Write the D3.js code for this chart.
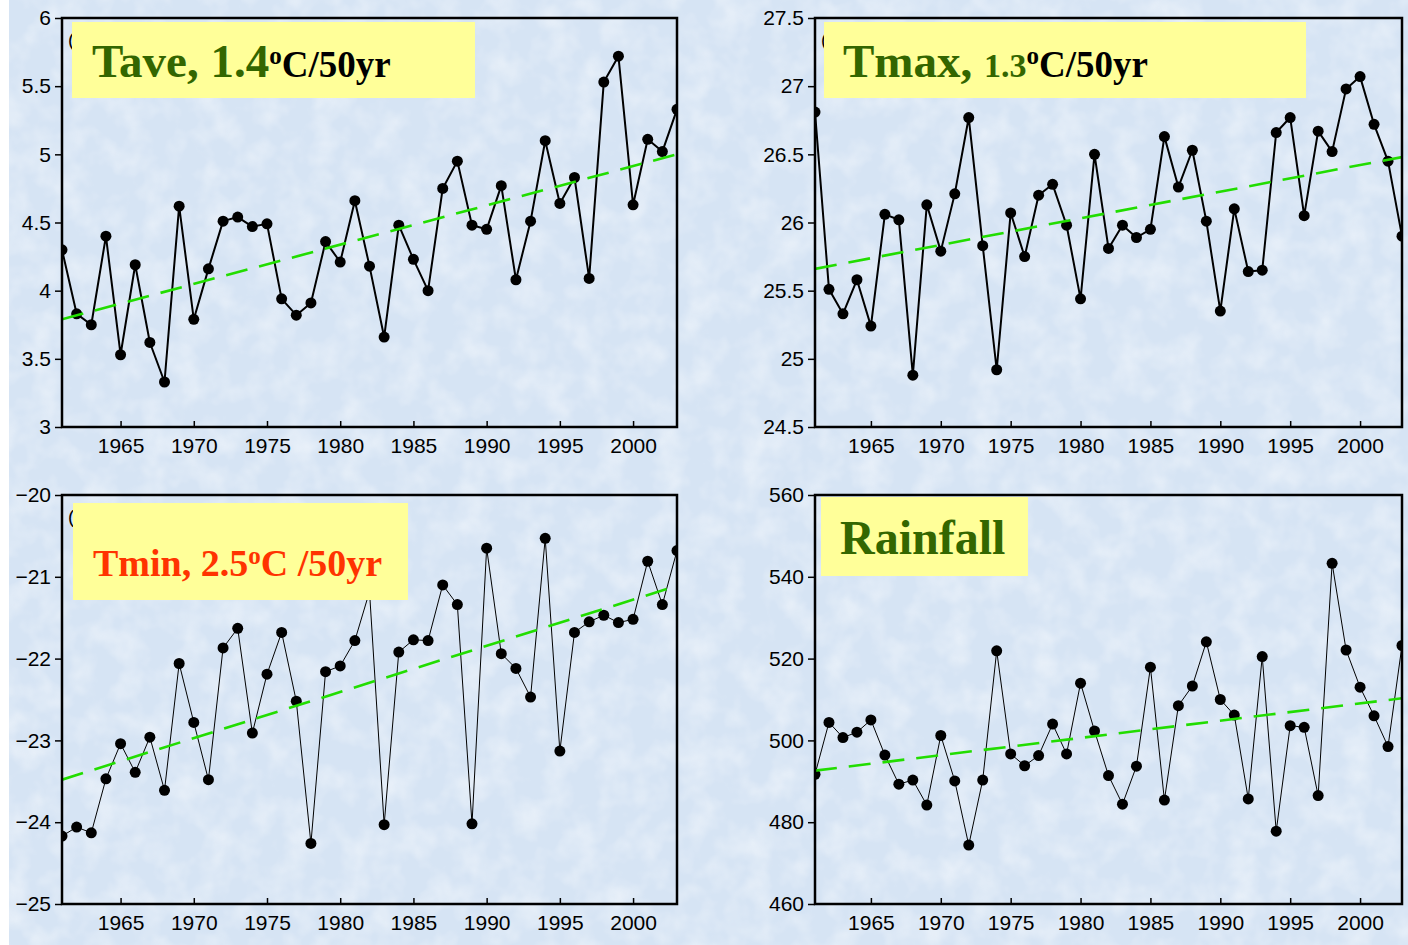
<!DOCTYPE html>
<html>
<head>
<meta charset="utf-8">
<script src="https://cdn.jsdelivr.net/npm/d3@7"></script>
<style>
  body { margin: 0; background: #fff; }
  svg { display: block; }
  .tick text { font-family: 'Liberation Sans', Arial, sans-serif; font-size: 21px; fill: #000; }
  .tick line { stroke: #000; stroke-width: 1.5px; }
  .domain { display: none; }
</style>
</head>
<body>
<svg width="1408" height="945"></svg>
<script>
// years on the x axis
var years = d3.range(1961, 2004);
var yearTicks = [1965, 1970, 1975, 1980, 1985, 1990, 1995, 2000];

// series
var tave = [4.30, 3.83, 3.75, 4.40, 3.53, 4.19, 3.62, 3.33, 4.62, 3.79,
            4.16, 4.51, 4.54, 4.47, 4.49, 3.94, 3.82, 3.91, 4.36, 4.21,
            4.66, 4.18, 3.66, 4.48, 4.23, 4.00, 4.75, 4.95, 4.48, 4.45,
            4.77, 4.08, 4.51, 5.10, 4.64, 4.83, 4.09, 5.53, 5.72, 4.63,
            5.11, 5.02, 5.33];
var tmax = [26.81, 25.51, 25.33, 25.58, 25.24, 26.06, 26.02, 24.88, 26.13, 25.79,
            26.21, 26.77, 25.83, 24.92, 26.07, 25.75, 26.20, 26.28, 25.98, 25.44,
            26.50, 25.81, 25.98, 25.89, 25.95, 26.63, 26.26, 26.53, 26.01, 25.35,
            26.10, 25.64, 25.65, 26.66, 26.77, 26.05, 26.67, 26.52, 26.98, 27.07,
            26.72, 26.45, 25.90];
var tmin = [-24.17, -24.06, -24.13, -23.47, -23.04, -23.39, -22.96, -23.61, -22.06, -22.78,
            -23.48, -21.87, -21.63, -22.91, -22.19, -21.68, -22.52, -24.26, -22.16, -22.09,
            -21.78, -21.18, -24.03, -21.92, -21.77, -21.78, -21.10, -21.34, -24.02, -20.65,
            -21.94, -22.12, -22.47, -20.53, -23.13, -21.68, -21.55, -21.47, -21.56, -21.52,
            -20.81, -21.34, -20.68];
var rain = [491.7, 504.4, 500.7, 502.0, 505.0, 496.4, 489.3, 490.3, 484.2, 501.2,
            490.1, 474.4, 490.3, 521.9, 496.7, 493.8, 496.3, 504.0, 496.7, 514.0,
            502.3, 491.4, 484.4, 493.7, 517.9, 485.4, 508.5, 513.3, 524.1, 510.0,
            506.2, 485.7, 520.5, 477.8, 503.6, 503.2, 486.5, 543.3, 522.1, 513.0,
            506.0, 498.5, 523.2];

// linear trend end values (1961, 2003)
var taveTrend = [3.79, 5.00];
var tmaxTrend = [25.66, 26.48];
var tminTrend = [-23.48, -21.11];
var rainTrend = [492.6, 510.3];

// y axis ranges and ticks
var taveDomain = [3, 6],       taveTicks = [3, 3.5, 4, 4.5, 5, 5.5, 6];
var tmaxDomain = [24.5, 27.5], tmaxTicks = [24.5, 25, 25.5, 26, 26.5, 27, 27.5];
var tminDomain = [-25, -20],   tminTicks = [-25, -24, -23, -22, -21, -20];
var rainDomain = [460, 560],   rainTicks = [460, 480, 500, 520, 540, 560];

var svg = d3.select('svg');

// textured light blue background
var defs = svg.append('defs');
var filt = defs.append('filter').attr('id', 'tex')
    .attr('x', 0).attr('y', 0).attr('width', '100%').attr('height', '100%');
filt.append('feTurbulence').attr('type', 'fractalNoise')
    .attr('baseFrequency', 0.035).attr('numOctaves', 3).attr('seed', 4);
filt.append('feColorMatrix').attr('type', 'matrix')
    .attr('values', '0 0 0 0 1  0 0 0 0 1  0 0 0 0 1  0 0 0 1.4 -0.55');

svg.append('rect').attr('x', 9).attr('y', 0).attr('width', 1399).attr('height', 945)
    .attr('fill', '#d6e4f4');
svg.append('rect').attr('x', 9).attr('y', 0).attr('width', 1399).attr('height', 945)
    .attr('filter', 'url(#tex)').attr('opacity', 0.6);

var panels = [
  {id: 'a', values: tave, trend: taveTrend, domain: taveDomain, ticks: taveTicks,
   l: 62, r: 677, t: 18, b: 427, lw: 2},
  {id: 'b', values: tmax, trend: tmaxTrend, domain: tmaxDomain, ticks: tmaxTicks,
   l: 815, r: 1402, t: 18, b: 427, lw: 2},
  {id: 'c', values: tmin, trend: tminTrend, domain: tminDomain, ticks: tminTicks,
   l: 62, r: 677, t: 495, b: 904, lw: 1},
  {id: null, values: rain, trend: rainTrend, domain: rainDomain, ticks: rainTicks,
   l: 815, r: 1402, t: 495, b: 904, lw: 1}
];

panels.forEach(function(p, i) {
  var w = p.r - p.l, h = p.b - p.t;
  var g = svg.append('g').attr('transform', 'translate(' + [p.l, p.t] + ')');

  var x = d3.scaleLinear().domain([1961, 2003]).range([0, w]);
  var y = d3.scaleLinear().domain(p.domain).range([h, 0]);

  defs.append('clipPath').attr('id', 'clip' + i)
    .append('rect').attr('width', w).attr('height', h);

  // panel letter, mostly hidden behind the label box
  if (p.id) {
    g.append('text')
      .attr('x', 6).attr('y', 28)
      .style('font-family', 'Liberation Sans, Arial, sans-serif')
      .style('font-size', '19px')
      .text('(' + p.id + ')');
  }

  // axes
  g.append('g')
    .attr('transform', 'translate(0,' + h + ')')
    .call(d3.axisBottom(x).tickValues(yearTicks).tickFormat(d3.format('d'))
      .tickSizeInner(-6).tickSizeOuter(0).tickPadding(11));
  g.append('g')
    .call(d3.axisLeft(y).tickValues(p.ticks).tickFormat(d3.format(''))
      .tickSizeInner(7).tickSizeOuter(0).tickPadding(4));

  var plot = g.append('g').attr('clip-path', 'url(#clip' + i + ')');

  var line = d3.line()
    .x(function(d, j) { return x(years[j]); })
    .y(function(d) { return y(d); });

  plot.append('path')
    .datum(p.values)
    .attr('d', line)
    .attr('fill', 'none')
    .attr('stroke', '#000')
    .attr('stroke-width', p.lw)
    .attr('stroke-linejoin', 'round');

  plot.selectAll('circle')
    .data(p.values)
    .enter().append('circle')
    .attr('cx', function(d, j) { return x(years[j]); })
    .attr('cy', function(d) { return y(d); })
    .attr('r', 5.5)
    .attr('fill', '#000');

  plot.append('line')
    .attr('x1', x(1961)).attr('y1', y(p.trend[0]))
    .attr('x2', x(2003)).attr('y2', y(p.trend[1]))
    .attr('stroke', '#22dd00')
    .attr('stroke-width', 2.6)
    .attr('stroke-dasharray', '22,12');

  p.g = g; p.w = w; p.h = h;
});

// label boxes
var serif = "'Liberation Serif', 'Times New Roman', serif";
var green = '#336600';

function box(p, bx, by, bw, bh) {
  p.g.append('rect')
    .attr('x', bx - p.l).attr('y', by - p.t)
    .attr('width', bw).attr('height', bh)
    .attr('fill', '#ffff99');
  return p.g.append('text')
    .style('font-family', serif)
    .style('font-weight', 'bold');
}

var t1 = box(panels[0], 72, 22, 403, 76).attr('x', 92 - 62).attr('y', 77 - 18);
t1.append('tspan').attr('fill', green).style('font-size', '47px').text('Tave, 1.4');
t1.append('tspan').attr('fill', '#000').style('font-size', '25px').attr('dy', -13).text('o');
t1.append('tspan').attr('fill', '#000').style('font-size', '37px').attr('dy', 13).text('C/50yr');

var t2 = box(panels[1], 824, 22, 482, 76).attr('x', 843 - 815).attr('y', 77 - 18);
t2.append('tspan').attr('fill', green).style('font-size', '47px').text('Tmax, ');
t2.append('tspan').attr('fill', green).style('font-size', '34px').text('1.3');
t2.append('tspan').attr('fill', '#000').style('font-size', '25px').attr('dy', -13).text('o');
t2.append('tspan').attr('fill', '#000').style('font-size', '37px').attr('dy', 13).text('C/50yr');

var t3 = box(panels[2], 73, 503, 335, 97).attr('x', 93 - 62).attr('y', 576 - 495);
t3.append('tspan').attr('fill', '#ff3300').style('font-size', '38px').text('Tmin, 2.5');
t3.append('tspan').attr('fill', '#ff3300').style('font-size', '25px').attr('dy', -12).text('o');
t3.append('tspan').attr('fill', '#ff3300').style('font-size', '38px').attr('dy', 12).text('C /50yr');

var t4 = box(panels[3], 821, 497, 207, 79).attr('x', 840 - 815).attr('y', 554 - 495);
t4.append('tspan').attr('fill', green).style('font-size', '48px').text('Rainfall');

// frames on top
panels.forEach(function(p) {
  p.g.append('rect')
    .attr('width', p.w).attr('height', p.h)
    .attr('fill', 'none')
    .attr('stroke', '#000')
    .attr('stroke-width', 2.5);
});
</script>
</body>
</html>
